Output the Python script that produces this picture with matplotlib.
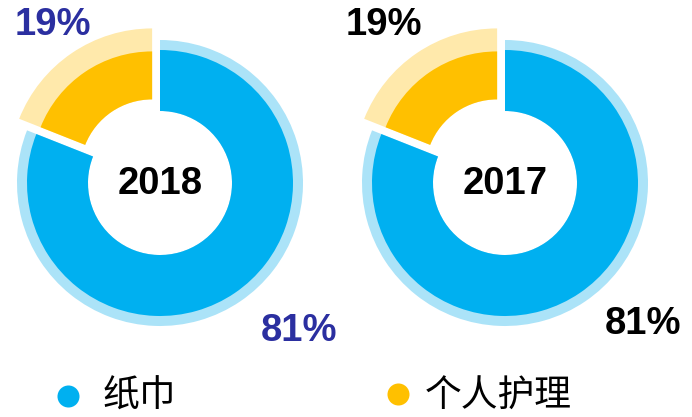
import matplotlib
matplotlib.use("Agg")
import matplotlib.pyplot as plt

# data
years = ["2018", "2017"]
categories = ["纸巾", "个人护理"]
shares = {"2018": [81, 19], "2017": [81, 19]}
pct_colors = {"2018": "#2B2FA0", "2017": "#000000"}

BLUE, BLUE_LT = "#00B0F0", "#ABE3F8"
YEL, YEL_LT = "#FFC000", "#FFE9AB"

W, H = 692, 417
fig = plt.figure(figsize=(W / 100, H / 100), dpi=100)
ax = fig.add_axes([0, 0, 1, 1])

centers = {"2018": (160, 234), "2017": (505, 234)}
explode = [0, 14]
r_in = 72

for yr in years:
    vals = shares[yr]
    c = centers[yr]
    common = dict(center=c, startangle=90, counterclock=False,
                  explode=explode, frame=True)
    # light outer band
    ax.pie(vals, radius=143, colors=[BLUE_LT, YEL_LT],
           wedgeprops=dict(width=143 - r_in, linewidth=0), **common)
    # dark blue part
    ax.pie(vals, radius=133, colors=[BLUE, "none"],
           wedgeprops=dict(width=133 - r_in, linewidth=0), **common)
    # dark yellow part
    ax.pie(vals, radius=120, colors=["none", YEL],
           wedgeprops=dict(width=120 - r_in, linewidth=0), **common)
    ax.text(c[0], c[1] - 1, yr, ha="center", va="center", fontsize=27.5,
            fontweight="bold", family="Liberation Sans", color="black")

# percentage labels
lab_pos = {"2018": [(299, 86), (53, 392)], "2017": [(643, 93), (384, 392)]}
for yr in years:
    for v, (x, y) in zip(shares[yr], lab_pos[yr]):
        ax.text(x, y, f"{v}%", ha="center", va="center", fontsize=27.5,
                fontweight="bold", family="Liberation Sans",
                color=pct_colors[yr])

# legend
leg_dot = [(67.5, 21), (398, 23)]
leg_txt = [(103, 21), (425, 21)]
for name, col, (dx, dy), (tx, ty) in zip(categories, [BLUE, YEL], leg_dot, leg_txt):
    ax.scatter([dx], [dy], s=22 ** 2 * 0.52, color=col, linewidth=0)
    ax.text(tx, ty, name, ha="left", va="center", fontsize=26.5,
            family=["Noto Sans CJK SC", "DejaVu Sans"], color="black")

ax.set_xlim(0, W)
ax.set_ylim(0, H)
ax.set_aspect("equal")
ax.axis("off")

fig.savefig("out.png", dpi=100)
